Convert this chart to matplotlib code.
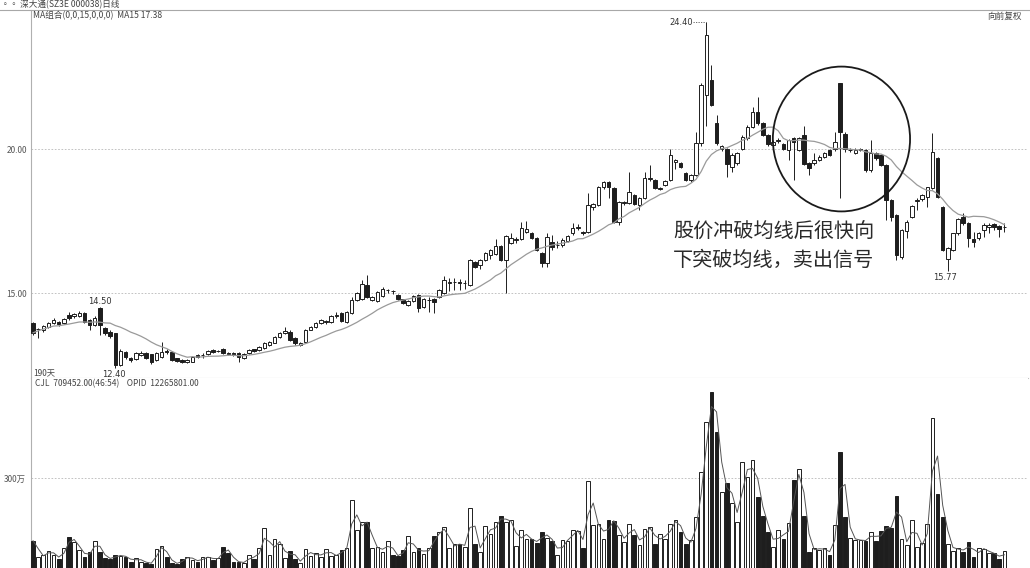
import numpy as np
import pandas as pd
import matplotlib
matplotlib.use("Agg")
import matplotlib.pyplot as plt
from matplotlib.patches import Ellipse
from matplotlib.lines import Line2D

plt.rcParams['font.family'] = ['Noto Sans CJK SC', 'DejaVu Sans']

opens = [13.95,13.74,13.72,13.83,13.95,13.98,13.97,14.24,14.20,14.21,
         14.30,14.06,13.89,14.47,13.77,13.66,13.60,12.50,12.96,12.73,
         12.71,12.86,12.91,12.87,12.67,12.77,13.00,12.96,12.73,12.69,
         12.61,12.62,12.85,12.84,12.88,13.02,12.99,13.06,12.92,12.91,
         12.93,12.73,12.91,13.04,13.02,13.08,13.19,13.28,13.46,13.60,
         13.66,13.43,13.20,13.31,13.72,13.83,13.95,13.98,14.00,14.20,
         14.30,14.00,14.30,14.76,14.80,15.28,14.76,14.73,14.90,15.09,
         15.08,14.93,14.78,14.58,14.73,14.93,14.51,14.75,14.78,14.87,
         14.99,15.35,15.37,15.38,15.34,15.28,16.09,15.97,16.15,16.32,
         16.35,16.63,16.15,16.73,16.85,16.86,17.13,17.09,16.90,16.38,
         16.03,16.76,16.66,16.67,16.82,17.07,17.27,17.13,17.13,17.98,
         18.06,18.67,18.84,18.64,17.48,18.14,18.14,18.40,18.06,18.29,
         18.97,18.92,18.63,18.75,18.92,19.54,19.50,19.18,18.92,19.10,
         20.20,21.88,22.40,20.89,19.99,19.99,19.39,19.50,20.02,20.37,
         20.77,21.30,20.89,20.49,20.14,20.28,20.17,19.97,20.37,19.97,
         20.49,19.52,19.50,19.62,19.73,19.97,19.99,22.28,20.54,19.96,
         19.87,19.98,19.97,19.27,19.85,19.79,19.45,18.23,17.71,16.26,
         17.17,17.65,18.18,18.25,18.34,18.64,19.68,18.00,16.17,16.49,
         17.07,17.65,17.42,16.86,16.90,17.19,17.28,17.40,17.33,17.29]
highs = [14.00,13.80,13.90,14.00,14.12,14.02,14.12,14.35,14.32,14.36,
         14.34,14.10,14.20,14.50,13.82,13.70,13.62,13.05,13.00,12.78,
         12.97,12.98,12.95,12.90,12.95,13.31,13.05,13.00,12.76,12.72,
         12.70,12.83,12.88,12.92,13.02,13.05,13.03,13.08,12.95,12.94,
         12.96,12.92,13.06,13.07,13.17,13.30,13.35,13.50,13.66,13.83,
         13.70,13.46,13.30,13.76,13.87,13.98,14.10,14.08,14.25,14.35,
         14.33,14.38,14.87,15.05,15.45,15.63,14.90,15.07,15.20,15.15,
         15.10,14.96,14.80,14.76,14.94,14.96,14.82,14.85,14.82,15.14,
         15.59,15.54,15.52,15.50,15.45,16.20,16.12,16.20,16.42,16.53,
         16.86,16.66,17.02,17.07,16.95,17.48,17.51,17.12,16.93,16.42,
         17.07,17.01,16.80,16.90,17.02,17.42,17.40,17.16,18.48,18.13,
         18.72,18.90,18.88,18.67,18.20,18.20,19.21,18.45,18.33,19.21,
         19.44,18.97,18.70,18.93,20.02,19.66,19.55,19.22,19.14,20.60,
         22.30,24.40,22.92,21.18,20.15,20.05,19.85,19.90,20.48,20.82,
         21.47,21.80,20.93,20.52,20.30,20.40,20.21,20.35,20.42,20.41,
         20.80,19.56,19.85,19.78,19.90,20.00,20.60,22.30,20.58,20.05,
         20.05,20.05,20.00,20.31,19.90,19.83,19.48,18.26,17.74,17.22,
         17.52,18.06,18.30,18.45,18.70,20.55,19.72,18.03,16.60,17.10,
         17.60,17.77,17.46,17.13,17.13,17.42,17.42,17.44,17.38,17.42]
lows = [13.54,13.43,13.65,13.80,13.92,13.85,13.93,14.05,14.15,14.18,
        13.95,13.72,13.85,13.54,13.55,13.45,12.40,12.45,12.70,12.62,
        12.68,12.82,12.70,12.55,12.63,12.74,12.90,12.63,12.60,12.58,
        12.58,12.60,12.76,12.76,12.85,12.93,12.96,12.88,12.86,12.82,
        12.62,12.70,12.88,12.97,13.00,13.05,13.16,13.25,13.43,13.57,
        13.33,13.20,13.15,13.28,13.70,13.80,13.92,13.94,13.97,14.15,
        14.00,13.97,14.27,14.72,14.75,14.82,14.72,14.70,14.87,15.00,
        14.98,14.75,14.62,14.55,14.70,14.35,14.48,14.35,14.30,14.84,
        14.96,15.08,15.10,15.10,15.15,15.25,15.88,15.85,16.10,16.20,
        16.32,16.10,14.99,16.70,16.75,16.83,17.10,16.87,16.45,15.91,
        15.91,16.50,16.55,16.60,16.78,17.03,17.20,17.00,17.10,17.90,
        18.03,18.62,18.29,17.45,17.36,18.05,18.10,18.05,17.88,18.25,
        18.90,18.60,18.58,18.72,18.88,19.30,19.35,18.88,18.86,19.05,
        20.10,20.80,21.50,20.15,19.95,19.04,19.21,19.45,19.98,20.30,
        20.72,20.85,20.45,20.12,20.10,20.20,19.98,19.62,18.92,19.93,
        19.45,19.10,19.45,19.58,19.70,19.75,19.95,18.29,19.90,19.90,
        19.82,19.92,19.22,19.22,19.62,19.40,17.53,17.50,16.15,16.20,
        16.90,17.60,17.88,18.20,18.00,18.60,18.30,16.45,15.77,16.45,
        17.00,17.38,16.61,16.61,16.85,16.95,17.10,17.20,16.95,17.13]
closes = [13.62,13.76,13.86,13.97,14.06,13.91,14.09,14.12,14.26,14.30,
          14.00,13.89,14.12,13.89,13.60,13.51,12.50,13.00,12.77,12.68,
          12.93,12.93,12.73,12.62,12.91,12.96,12.94,12.67,12.64,12.62,
          12.67,12.79,12.79,12.86,12.99,12.96,13.00,12.91,12.90,12.86,
          12.79,12.88,13.02,13.00,13.14,13.26,13.31,13.46,13.62,13.68,
          13.37,13.26,13.25,13.72,13.83,13.95,14.06,14.03,14.20,14.24,
          14.04,14.35,14.76,14.99,15.30,14.85,14.87,15.04,15.13,15.11,
          15.06,14.78,14.66,14.72,14.90,14.47,14.78,14.77,14.70,15.10,
          15.45,15.37,15.39,15.36,15.35,16.15,15.91,16.15,16.38,16.49,
          16.63,16.15,16.98,16.92,16.87,17.25,17.22,16.90,16.49,16.03,
          16.96,16.59,16.68,16.84,16.98,17.25,17.29,17.07,18.06,18.09,
          18.67,18.86,18.69,17.48,18.17,18.16,18.52,18.09,18.29,18.98,
          18.99,18.64,18.65,18.89,19.79,19.62,19.39,18.92,19.10,20.20,
          22.22,23.96,21.53,20.20,20.10,19.48,19.79,19.85,20.43,20.77,
          21.30,20.89,20.49,20.17,20.25,20.30,20.02,20.31,20.25,20.37,
          19.48,19.36,19.62,19.73,19.85,19.79,20.25,20.60,20.02,19.98,
          19.97,20.00,19.27,19.85,19.68,19.45,18.23,17.65,16.32,17.19,
          17.48,18.02,18.22,18.40,18.67,19.91,18.34,16.49,16.55,17.07,
          17.56,17.42,16.90,16.78,17.09,17.36,17.36,17.28,17.21,17.31]
volumes = [91,38,43,58,43,30,68,104,86,60,
           38,54,91,54,34,30,43,40,38,21,
           34,21,18,14,63,73,36,18,13,30,
           38,28,21,36,36,28,34,69,51,21,
           21,16,43,30,66,132,43,97,79,34,
           58,30,16,63,40,49,38,63,40,43,
           60,66,227,127,154,152,66,71,54,90,
           43,40,60,108,52,66,47,68,106,121,
           138,68,79,80,71,199,80,54,141,114,
           152,174,152,160,74,126,98,95,82,119,
           101,90,43,93,91,126,124,66,290,143,
           148,98,160,155,110,88,146,110,77,130,
           138,79,114,97,148,161,121,79,93,171,
           321,488,588,452,254,282,216,154,352,304,
           360,238,173,121,71,126,95,149,293,330,
           174,54,68,60,66,43,143,386,171,101,
           93,93,90,121,90,124,140,132,241,98,
           77,160,71,82,146,499,247,171,79,58,
           68,52,88,37,66,63,49,49,30,58]

price_ticks = [15.0, 20.0]
price_tick_labels = ['15.00', '20.00']
vol_ticks = [300]
vol_tick_labels = ['300万']

W, H = 1030, 568
fig = plt.figure(figsize=(W / 100, H / 100), dpi=100)
fig.patch.set_facecolor('white')

def fx(px):
    return px / W

def fy(py):
    return 1 - py / H

ax = fig.add_axes([fx(31), fy(378), fx(1028) - fx(31), fy(10) - fy(378)])
axv = fig.add_axes([fx(31), 0, fx(1028) - fx(31), fy(378)], sharex=ax)

df = pd.DataFrame({'o': opens, 'h': highs, 'l': lows, 'c': closes, 'v': volumes})
x = np.arange(len(df))
up = df['c'] >= df['o']
ink = '#1e1e1e'

# wicks
ax.vlines(x, df['l'], df['h'], color=ink, lw=0.7, zorder=2)
# bodies
body_bottom = np.minimum(df['o'], df['c'])
body_h = np.maximum(np.abs(df['c'] - df['o']), 0.015)
ax.bar(x[up], body_h[up], bottom=body_bottom[up], width=0.68,
       facecolor='white', edgecolor=ink, lw=0.7, zorder=3)
ax.bar(x[~up], body_h[~up], bottom=body_bottom[~up], width=0.68,
       facecolor=ink, edgecolor=ink, lw=0.7, zorder=3)

# MA15
ma15 = df['c'].rolling(15, min_periods=1).mean()
ax.plot(x, ma15, color='#9a9a9a', lw=0.9, zorder=4)

ax.set_xlim(-0.4, 193.6)
ax.set_ylim(12.05, 24.83)
ax.set_yticks(price_ticks)
ax.set_yticklabels(price_tick_labels)
ax.tick_params(axis='y', length=0, pad=3, labelsize=6, labelcolor='#555555')
ax.tick_params(axis='x', bottom=False, labelbottom=False)
for yv in price_ticks:
    ax.axhline(yv, color='#b8b8b8', lw=0.6, ls=(0, (2, 2)), zorder=1)
for s in ['top', 'right']:
    ax.spines[s].set_visible(False)
ax.spines['left'].set_color('#b0b0b0')
ax.spines['left'].set_linewidth(0.8)
ax.spines['bottom'].set_color('#c0c0c0')
ax.spines['bottom'].set_linewidth(0.8)

# volume
axv.bar(x[up], df['v'][up], width=0.72, facecolor='white', edgecolor=ink, lw=0.7, zorder=3)
axv.bar(x[~up], df['v'][~up], width=0.72, facecolor=ink, edgecolor=ink, lw=0.7, zorder=3)
vma = df['v'].rolling(2, min_periods=1).mean()
axv.plot(x, vma, color='#555555', lw=0.7, zorder=4)
axv.set_ylim(0, 633)
axv.set_yticks(vol_ticks)
axv.set_yticklabels(vol_tick_labels)
axv.tick_params(axis='y', length=0, pad=4, labelsize=6, labelcolor='#555555')
axv.tick_params(axis='x', bottom=False, labelbottom=False)
for yv in vol_ticks:
    axv.axhline(yv, color='#b8b8b8', lw=0.6, ls=(0, (2, 2)), zorder=1)
for s in ['top', 'right', 'bottom']:
    axv.spines[s].set_visible(False)
axv.spines['left'].set_color('#b0b0b0')
axv.spines['left'].set_linewidth(0.8)

# price labels on extremes
ax.text(13, 14.56, '14.50', ha='center', va='bottom', fontsize=6, color='#333333', family='DejaVu Sans')
ax.text(15.8, 12.33, '12.40', ha='center', va='top', fontsize=6, color='#333333', family='DejaVu Sans')
ax.text(177.5, 15.70, '15.77', ha='center', va='top', fontsize=6, color='#333333', family='DejaVu Sans')
ax.text(128.4, 24.40, '24.40', ha='right', va='center', fontsize=6, color='#333333', family='DejaVu Sans')
ax.plot([128.5, 131], [24.40, 24.40], color='#555555', lw=0.6, ls=(0, (1.5, 1.5)))
ax.text(0.002, 0.014, '190天', transform=ax.transAxes, ha='left', va='center', fontsize=6, color='#444444')

# circle annotation
ax.add_patch(Ellipse((157.3, 20.35), 26.7, 5.03, fill=False, edgecolor='#1a1a1a', lw=1.3, zorder=5, clip_on=False))
fig.text(fx(673), fy(232), '股价冲破均线后很快向', fontsize=14.5, color='#2a2a2a', ha='left', va='center')
fig.text(fx(673), fy(260), '下突破均线，卖出信号', fontsize=14.5, color='#2a2a2a', ha='left', va='center')

# header
fig.add_artist(Line2D([0, 1], [fy(10), fy(10)], color='#a8a8a8', lw=0.8, transform=fig.transFigure))
fig.text(fx(1), fy(5), '◦◦ 深大通(SZ3E 000038)日线', fontsize=6.2, color='#444444', ha='left', va='center')
fig.text(fx(33), fy(16), 'MA组合(0,0,15,0,0,0)  MA15 17.38', fontsize=6.2, color='#444444', ha='left', va='center')
fig.text(fx(1022), fy(16), '向前复权', fontsize=6.2, color='#444444', ha='right', va='center')
fig.text(fx(35), fy(384), 'CJL  709452.00(46:54)    OPID  12265801.00', fontsize=6.0, color='#444444', ha='left', va='center')

fig.savefig('out.png', dpi=100)
